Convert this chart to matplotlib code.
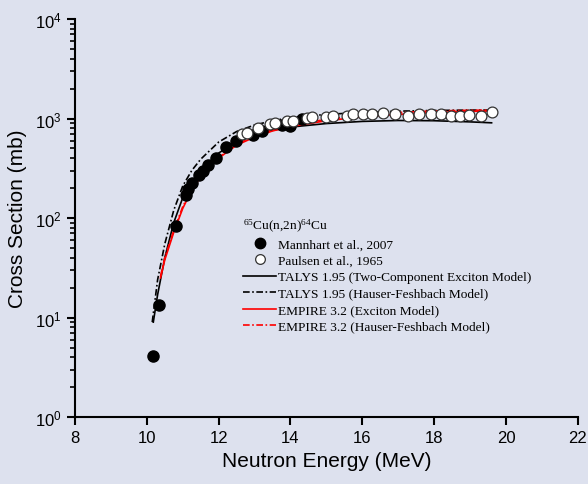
import matplotlib

matplotlib.use("Agg")
import matplotlib.pyplot as plt
from matplotlib.lines import Line2D

# measured points
mannhart_e = [10.17, 10.34, 10.81, 11.09, 11.15, 11.25, 11.45, 11.55, 11.70, 11.93,
              12.20, 12.48, 12.96, 13.20, 13.75, 13.99, 14.32]
mannhart_xs = [4.1, 13.5, 83, 172, 195, 225, 270, 300, 345, 400,
               515, 595, 690, 750, 870, 845, 990]

paulsen_e = [12.64, 12.78, 13.10, 13.43, 13.57, 13.89, 14.07, 14.45, 14.59, 15.00,
             15.19, 15.56, 15.75, 16.03, 16.26, 16.58, 16.91, 17.28, 17.59, 17.91,
             18.20, 18.47, 18.72, 18.96, 19.30, 19.61]
paulsen_xs = [694, 722, 798, 876, 911, 948, 948, 1023, 1040, 1040,
              1065, 1065, 1122, 1100, 1100, 1148, 1120, 1065, 1098, 1098,
              1112, 1065, 1065, 1080, 1050, 1150]

# model curves
talys_tce_e = [10.18, 10.3, 10.5, 10.75, 11.0, 11.25, 11.5, 12.0, 12.5, 13.0, 13.5,
               14.0, 15.0, 16.0, 17.0, 18.0, 19.0, 19.6]
talys_tce_xs = [9, 17, 40, 90, 160, 230, 300, 450, 580, 680, 760,
                820, 890, 935, 955, 950, 925, 905]

talys_hf_e = [10.15, 10.3, 10.5, 10.75, 11.0, 11.25, 11.5, 12.0, 12.5, 13.0, 13.5,
              14.0, 15.0, 16.0, 17.0, 18.0, 19.0, 19.6]
talys_hf_xs = [9, 24, 55, 120, 210, 300, 390, 580, 740, 860, 950,
               1020, 1100, 1150, 1185, 1205, 1215, 1215]

empire_ex_e = [10.38, 10.5, 10.75, 11.0, 11.25, 11.5, 12.0, 12.5, 13.0, 13.5,
               14.0, 15.0, 16.0, 17.0, 18.0, 19.0, 19.6]
empire_ex_xs = [25, 38, 72, 125, 190, 260, 400, 540, 650, 750,
                830, 950, 1040, 1100, 1150, 1180, 1190]

empire_hf_e = [10.38, 10.5, 10.75, 11.0, 11.25, 11.5, 12.0, 12.5, 13.0, 13.5,
               14.0, 15.0, 16.0, 17.0, 18.0, 19.0, 19.6]
empire_hf_xs = [26, 40, 75, 130, 195, 265, 405, 550, 665, 770,
                855, 980, 1080, 1150, 1190, 1210, 1215]

bg = "#dde1ee"
plt.rcParams["mathtext.default"] = "regular"
plt.rcParams["font.family"] = ["Liberation Sans", "DejaVu Sans"]

fig = plt.figure(figsize=(5.88, 4.85), dpi=100, facecolor=bg)
ax = fig.add_axes([0.1276, 0.138, 0.855, 0.8208], facecolor=bg)

ax.plot(talys_tce_e, talys_tce_xs, color="black", lw=1.2, zorder=2)
ax.plot(talys_hf_e, talys_hf_xs, color="black", lw=1.2, dashes=(4, 1.5, 1, 1.5), zorder=2)
ax.plot(empire_ex_e, empire_ex_xs, color="red", lw=1.2, zorder=2)
ax.plot(empire_hf_e, empire_hf_xs, color="red", lw=1.2, dashes=(4, 1.5, 1, 1.5), zorder=2)
ax.plot(mannhart_e, mannhart_xs, "o", color="black", ms=8, zorder=3)
ax.plot(paulsen_e, paulsen_xs, "o", mfc="white", mec="#333333", mew=0.9, ms=7.8, zorder=4)

ax.set_yscale("log")
ax.set_xlim(8, 22)
ax.set_ylim(1, 1e4)
ax.set_xticks(range(8, 23, 2))
for side in ("top", "right"):
    ax.spines[side].set_visible(False)
for side in ("left", "bottom"):
    ax.spines[side].set_linewidth(1.5)
ax.tick_params(which="major", direction="out", length=6, width=1.5, labelsize=12)
ax.tick_params(which="minor", direction="out", length=3.5, width=1.2)
ax.set_xlabel("Neutron Energy (MeV)", fontsize=15, labelpad=4)
ax.set_ylabel("Cross Section (mb)", fontsize=15, labelpad=6)

handles = [
    Line2D([], [], ls="none", marker="o", color="black", ms=7.5),
    Line2D([], [], ls="none", marker="o", mfc="white", mec="#333333", mew=0.9, ms=7),
    Line2D([], [], color="black", lw=1.2),
    Line2D([], [], color="black", lw=1.2, dashes=(4, 1.5, 1, 1.5)),
    Line2D([], [], color="red", lw=1.2),
    Line2D([], [], color="red", lw=1.2, dashes=(4, 1.5, 1, 1.5)),
]
labels = [
    "Mannhart et al., 2007",
    "Paulsen et al., 1965",
    "TALYS 1.95 (Two-Component Exciton Model)",
    "TALYS 1.95 (Hauser-Feshbach Model)",
    "EMPIRE 3.2 (Exciton Model)",
    "EMPIRE 3.2 (Hauser-Feshbach Model)",
]
leg = ax.legend(handles, labels, title="$^{65}$Cu(n,2n)$^{64}$Cu", frameon=False,
                loc="upper left", bbox_to_anchor=(0.334, 0.503),
                prop={"family": "Liberation Serif", "size": 9.6},
                title_fontproperties={"family": "Liberation Serif", "size": 9.6},
                handlelength=2.5, handletextpad=0.15, labelspacing=0.31,
                borderaxespad=0, borderpad=0)
leg._legend_box.align = "left"

fig.savefig("out.png", dpi=100, facecolor=bg)
